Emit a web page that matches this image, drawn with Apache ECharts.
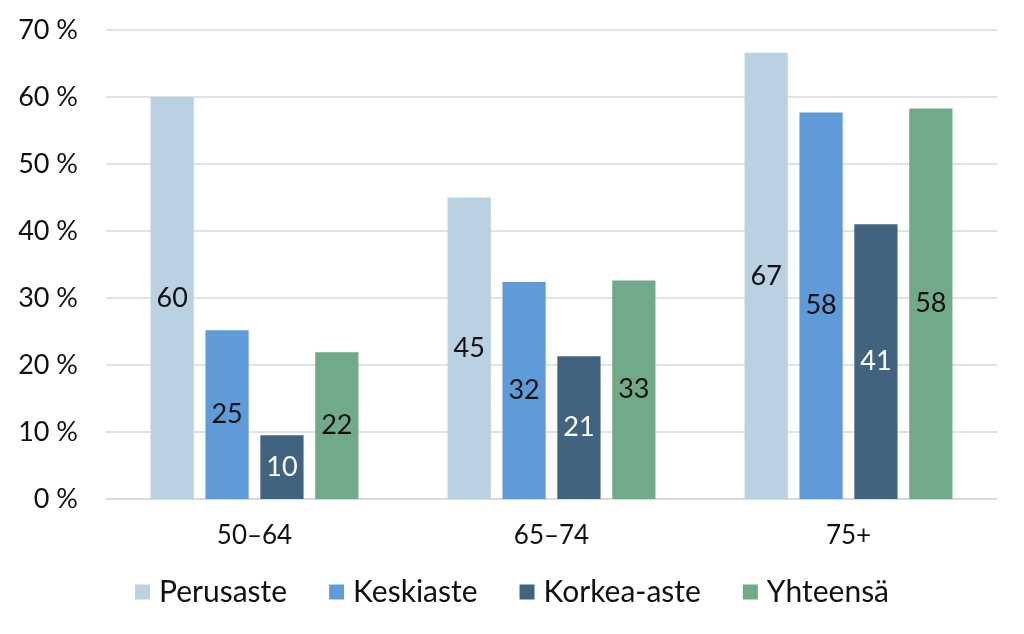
<!DOCTYPE html>
<html><head><meta charset="utf-8">
<script src="https://cdn.jsdelivr.net/npm/echarts@6/dist/echarts.min.js"></script>
<style>html,body{margin:0;padding:0;background:#fff}#c{width:1024px;height:634px}</style>
</head><body><div id="c"></div>
<script>
const categories = ['50–64', '65–74', '75+'];
const seriesNames = ['Perusaste', 'Keskiaste', 'Korkea-aste', 'Yhteensä'];
const perusaste = [60.0, 45.0, 66.6];
const keskiaste = [25.2, 32.4, 57.7];
const korkeaAste = [9.5, 21.3, 41.0];
const yhteensa = [21.9, 32.6, 58.3];
const colors = ['#B9D1E1', '#5F9BD9', '#41637F', '#71AA88'];
const labelColors = ['#111', '#111', '#fff', '#111'];
const values = [perusaste, keskiaste, korkeaAste, yhteensa];
const FONT = 'Lato';
const chart = echarts.init(document.getElementById('c'));
chart.setOption({
  animation: false,
  textStyle: { fontFamily: FONT },
  grid: { left: 106, right: 27, top: 30, bottom: 135 },
  legend: {
    bottom: 22, left: 'center', itemWidth: 15, itemHeight: 15, itemGap: 42,
    icon: 'rect',
    textStyle: { fontSize: 30, color: '#111', fontFamily: FONT, padding: [0, 0, 0, 4] }
  },
  xAxis: {
    type: 'category', data: categories,
    axisLine: { lineStyle: { color: '#d9d9d9', width: 1.5 } },
    axisTick: { show: false },
    axisLabel: { fontSize: 26, color: '#111', margin: 24, fontFamily: FONT }
  },
  yAxis: {
    type: 'value', min: 0, max: 70, interval: 10,
    axisLabel: { fontSize: 27, color: '#111', margin: 28, formatter: v => v + ' %', fontFamily: FONT },
    splitLine: { lineStyle: { color: '#d9d9d9', width: 1.5 } }
  },
  series: seriesNames.map((n, i) => ({
    name: n, type: 'bar', data: values[i],
    barGap: '27%', barCategoryGap: '30%',
    itemStyle: { color: colors[i] },
    label: { show: true, position: 'inside', fontSize: 27, color: labelColors[i], fontFamily: FONT,
      formatter: p => Math.round(p.value) }
  }))
});
</script></body></html>
